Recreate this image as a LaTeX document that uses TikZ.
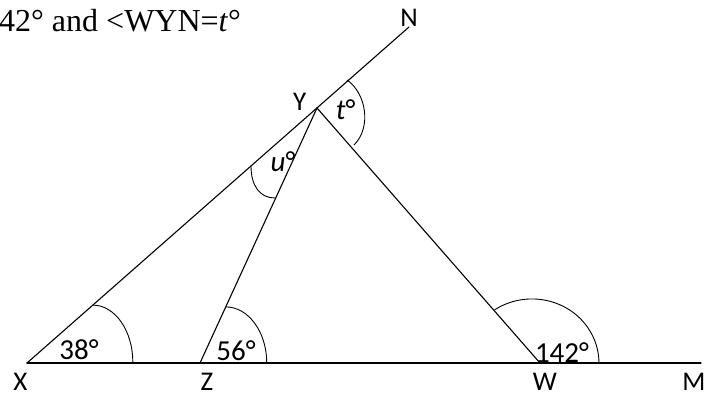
\documentclass[tikz,border=0pt]{standalone}
\usepackage{fontspec}
\setmainfont{Carlito}
\newfontfamily\timesfont{Liberation Serif}
\usepackage{tikz}
\usetikzlibrary{calc}
\tikzset{
  seg/.style    = {line width=1.1pt, line cap=round},
  angarc/.style = {line width=0.9pt},
  vlabel/.style = {inner sep=0pt, anchor=base, font=\fontsize{27}{27}\selectfont},
  alabel/.style = {inner sep=0pt, anchor=base, font=\fontsize{29}{29}\selectfont},
}
\begin{document}
\begin{tikzpicture}[x=1pt,y=-1pt]
\useasboundingbox (0,0) rectangle (707,397);
% points of the figure
\coordinate (X) at (27,363);
\coordinate (Z) at (200,363);
\coordinate (W) at (540,363);
\coordinate (M) at (701,363);
\coordinate (Y) at (317,108);
\coordinate (N) at (409,27);
% heading, cut at the left
\node[inner sep=0pt, anchor=base west, font=\timesfont\fontsize{32}{32}\selectfont] (head) at (-1,31.7) {42° and <WYN=\textit{t}°};
% lines
\draw[seg] (X) -- (M);
\draw[seg] (X) -- (N);
\draw[seg] (Z) -- (Y) -- (W);
% angle marks
\draw[angarc] ($(X)!0.227!(Y)$) arc[start angle=-90, end angle=0, x radius=40, y radius=57];
\draw[angarc] ($(Z)!0.22!(Y)$) arc[start angle=-90, end angle=0, x radius=41, y radius=56];
\draw[angarc] (494.5,309.9) arc[start angle=-124, end angle=0, x radius=67, y radius=64];
\draw[angarc] (347,80) .. controls (366,93) and (372,127) .. (354,145);
\draw[angarc] (251,166) .. controls (251,186) and (260,198) .. (275,198);
% vertex labels
\node[vlabel] (lX) at (20.3,390) {X};
\node[vlabel] (lZ) at (207,390) {Z};
\node[vlabel] (lW) at (545,390) {W};
\node[vlabel] (lM) at (694,390) {M};
\node[vlabel] (lY) at (299.7,110.7) {Y};
\node[vlabel] (lN) at (409,26.7) {N};
% angle labels
\node[alabel] (a38) at (79,359.3) {38°};
\node[alabel] (a56) at (236,360) {56°};
\node[alabel] (a142) at (562,362.7) {142°};
\node[alabel] (at) at (345.7,119) {\textit{t}°};
\node[alabel] (au) at (283,171.7) {\textit{u}°};
\end{tikzpicture}
\end{document}
